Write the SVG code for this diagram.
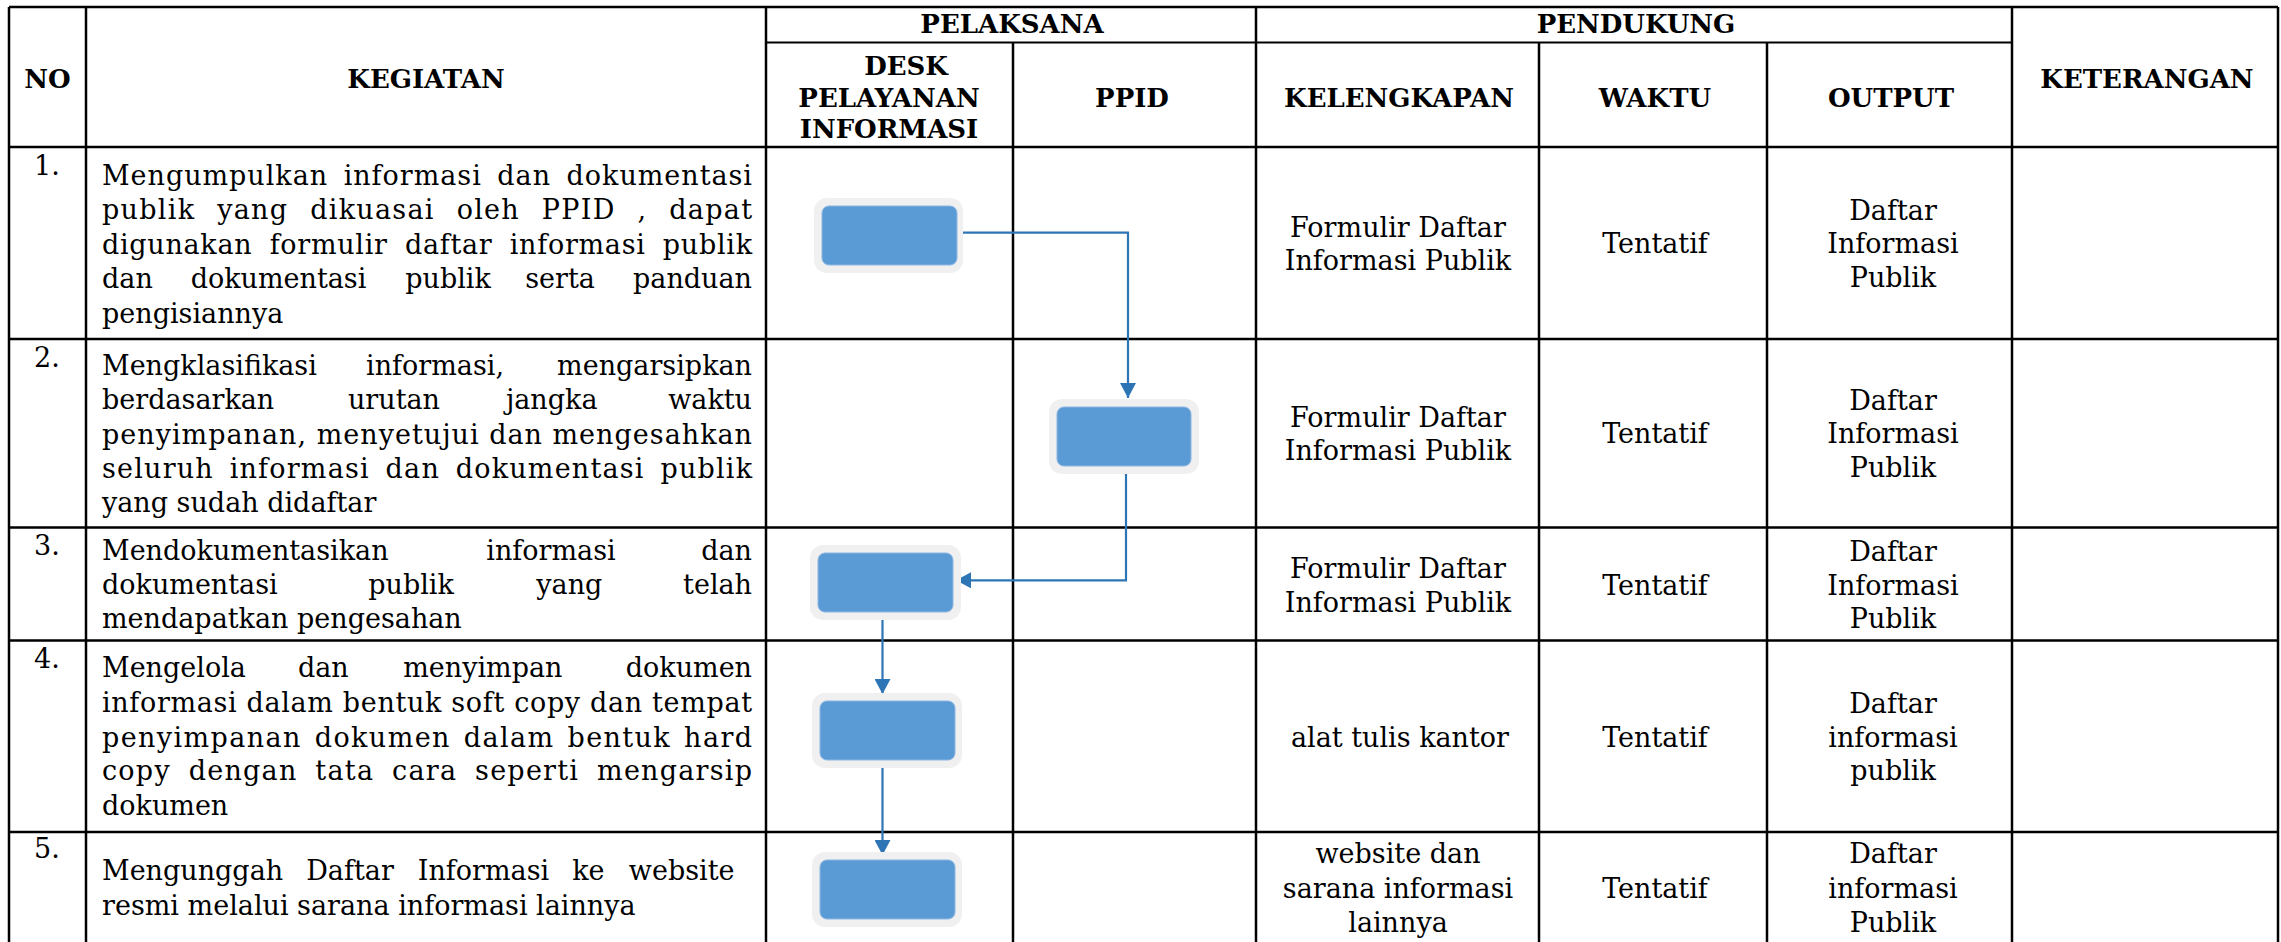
<svg xmlns="http://www.w3.org/2000/svg" width="2281" height="942" viewBox="0 0 2281 942">
<style>
.g{stroke:#000;stroke-width:2.5;fill:none}
.g2{stroke:#000;stroke-width:1.8;fill:none}
.h{font-family:'DejaVu Serif',serif;font-weight:bold;font-size:26px;fill:#000;text-anchor:middle}
.b{font-family:'DejaVu Serif',serif;font-size:27px;fill:#000}
.c{text-anchor:middle}
.e{text-anchor:end}
.n{font-family:'DejaVu Serif',serif;font-size:27px;fill:#000}
.glow{fill:#F0F0F0}
.box{fill:#5B9BD5;stroke:#8DB6E2;stroke-width:1}
.con{stroke:#2E75B6;stroke-width:2.2;fill:none;marker-end:url(#arr)}
</style>
<defs>
<marker id="arr" markerUnits="userSpaceOnUse" markerWidth="16" markerHeight="16" refX="15" refY="8" orient="auto">
<path d="M0,0 L15,8 L0,16 z" fill="#2E75B6"/>
</marker>
</defs>
<rect x="0" y="0" width="2281" height="942" fill="#fff"/>
<g id="grid">
<path class="g" d="M9,7 H2278 M9,147 H2278 M9,339 H2278 M9,527.5 H2278 M9,640.5 H2278 M9,832 H2278"/>
<path class="g2" d="M766,42.5 H2012"/>
<path class="g" d="M9,7 V942 M86,7 V942 M766,7 V942 M1013,42.5 V942 M1256,7 V942 M1539,42.5 V942 M1767,42.5 V942 M2012,7 V942 M2278,7 V942"/>
</g>
<g id="header">
<text class="h" x="47.5" y="88">NO</text>
<text class="h" x="426" y="88">KEGIATAN</text>
<text class="h" x="1012" y="33">PELAKSANA</text>
<text class="h" x="1636" y="33">PENDUKUNG</text>
<text class="h" x="906" y="75">DESK</text>
<text class="h" x="889" y="106.5">PELAYANAN</text>
<text class="h" x="889" y="138">INFORMASI</text>
<text class="h" x="1132" y="106.5">PPID</text>
<text class="h" x="1399" y="106.5">KELENGKAPAN</text>
<text class="h" x="1655" y="106.5">WAKTU</text>
<text class="h" x="1891" y="106.5">OUTPUT</text>
<text class="h" x="2147" y="88">KETERANGAN</text>
</g>
<g id="row1">
<text class="n" x="34" y="175">1.</text>
<text class="b" x="102" y="184.5" textLength="650" lengthAdjust="spacing" word-spacing="6">Mengumpulkan informasi dan dokumentasi</text>
<text class="b" x="102" y="219" textLength="650" lengthAdjust="spacing" word-spacing="12">publik yang dikuasai oleh PPID , dapat</text>
<text class="b" x="102" y="253.5" textLength="650" lengthAdjust="spacing" word-spacing="8">digunakan formulir daftar informasi publik</text>
<text class="b" x="102" y="288">dan</text>
<text class="b c" x="278.5" y="288">dokumentasi</text>
<text class="b c" x="448" y="288">publik</text>
<text class="b c" x="560" y="288">serta</text>
<text class="b e" x="752" y="288">panduan</text>
<text class="b" x="102" y="322.5">pengisiannya</text>
<text class="b c" x="1398" y="236.7">Formulir Daftar</text>
<text class="b c" x="1398" y="270">Informasi Publik</text>
<text class="b c" x="1655" y="253.3">Tentatif</text>
<text class="b c" x="1893" y="220">Daftar</text>
<text class="b c" x="1893" y="253.3">Informasi</text>
<text class="b c" x="1893" y="286.7">Publik</text>
</g>
<g id="row2">
<text class="n" x="34" y="367">2.</text>
<text class="b" x="102" y="375">Mengklasifikasi</text>
<text class="b c" x="435" y="375">informasi,</text>
<text class="b e" x="752" y="375">mengarsipkan</text>
<text class="b" x="102" y="409.3">berdasarkan</text>
<text class="b c" x="394" y="409.3">urutan</text>
<text class="b c" x="551.7" y="409.3">jangka</text>
<text class="b e" x="752" y="409.3">waktu</text>
<text class="b" x="102" y="443.5" textLength="650" lengthAdjust="spacing">penyimpanan, menyetujui dan mengesahkan</text>
<text class="b" x="102" y="477.7" textLength="650" lengthAdjust="spacing" word-spacing="6">seluruh informasi dan dokumentasi publik</text>
<text class="b" x="102" y="512">yang sudah didaftar</text>
<text class="b c" x="1398" y="426.7">Formulir Daftar</text>
<text class="b c" x="1398" y="460">Informasi Publik</text>
<text class="b c" x="1655" y="443.3">Tentatif</text>
<text class="b c" x="1893" y="410">Daftar</text>
<text class="b c" x="1893" y="443.3">Informasi</text>
<text class="b c" x="1893" y="476.7">Publik</text>
</g>
<g id="row3">
<text class="n" x="34" y="555">3.</text>
<text class="b" x="102" y="560">Mendokumentasikan</text>
<text class="b c" x="551" y="560">informasi</text>
<text class="b e" x="752" y="560">dan</text>
<text class="b" x="102" y="594">dokumentasi</text>
<text class="b c" x="411" y="594">publik</text>
<text class="b c" x="569.3" y="594">yang</text>
<text class="b e" x="752" y="594">telah</text>
<text class="b" x="102" y="628.3">mendapatkan pengesahan</text>
<text class="b c" x="1398" y="578.3">Formulir Daftar</text>
<text class="b c" x="1398" y="611.7">Informasi Publik</text>
<text class="b c" x="1655" y="595">Tentatif</text>
<text class="b c" x="1893" y="560.7">Daftar</text>
<text class="b c" x="1893" y="595">Informasi</text>
<text class="b c" x="1893" y="628.3">Publik</text>
</g>
<g id="row4">
<text class="n" x="34" y="668">4.</text>
<text class="b" x="102" y="676.7">Mengelola</text>
<text class="b c" x="323.3" y="676.7">dan</text>
<text class="b c" x="482.8" y="676.7">menyimpan</text>
<text class="b e" x="752" y="676.7">dokumen</text>
<text class="b" x="102" y="711.7" textLength="650" lengthAdjust="spacing">informasi dalam bentuk soft copy dan tempat</text>
<text class="b" x="102" y="746.7" textLength="650" lengthAdjust="spacing" word-spacing="3">penyimpanan dokumen dalam  bentuk hard</text>
<text class="b" x="102" y="780" textLength="650" lengthAdjust="spacing" word-spacing="8">copy dengan tata cara seperti mengarsip</text>
<text class="b" x="102" y="815">dokumen</text>
<text class="b c" x="1400" y="746.7">alat tulis kantor</text>
<text class="b c" x="1655" y="746.7">Tentatif</text>
<text class="b c" x="1893" y="713.3">Daftar</text>
<text class="b c" x="1893" y="746.7">informasi</text>
<text class="b c" x="1893" y="780">publik</text>
</g>
<g id="row5">
<text class="n" x="34" y="858">5.</text>
<text class="b" x="102" y="880">Mengunggah</text>
<text class="b c" x="350" y="880">Daftar</text>
<text class="b c" x="483.5" y="880">Informasi</text>
<text class="b c" x="588.4" y="880">ke</text>
<text class="b e" x="734.5" y="880">website</text>
<text class="b" x="102" y="915">resmi melalui sarana informasi lainnya</text>
<text class="b c" x="1398" y="863.3">website dan</text>
<text class="b c" x="1398" y="898.3">sarana informasi</text>
<text class="b c" x="1398" y="931.7">lainnya</text>
<text class="b c" x="1655" y="898.3">Tentatif</text>
<text class="b c" x="1893" y="863.3">Daftar</text>
<text class="b c" x="1893" y="898.3">informasi</text>
<text class="b c" x="1893" y="931.7">Publik</text>
</g>
<g id="connectors">
<path class="con" d="M961,232.7 H1128 V398"/>
<path class="con" d="M1126,468 V580.3 H956"/>
<path class="con" d="M882.5,615 V694"/>
<path class="con" d="M882.5,765 V855"/>
</g>
<g id="node1"><rect class="glow" x="814" y="198" width="149" height="75" rx="13"/><rect class="box" x="822" y="206" width="135" height="59" rx="7"/></g>
<g id="node2"><rect class="glow" x="1049" y="399" width="150" height="75" rx="13"/><rect class="box" x="1057" y="407" width="134" height="59" rx="7"/></g>
<g id="node3"><rect class="glow" x="810" y="545" width="151" height="75" rx="13"/><rect class="box" x="818" y="553" width="135" height="59" rx="7"/></g>
<g id="node4"><rect class="glow" x="812" y="693" width="150" height="75" rx="13"/><rect class="box" x="820" y="701" width="135" height="59" rx="7"/></g>
<g id="node5"><rect class="glow" x="812" y="852" width="150" height="75" rx="13"/><rect class="box" x="820" y="860" width="135" height="59" rx="7"/></g>
</svg>
